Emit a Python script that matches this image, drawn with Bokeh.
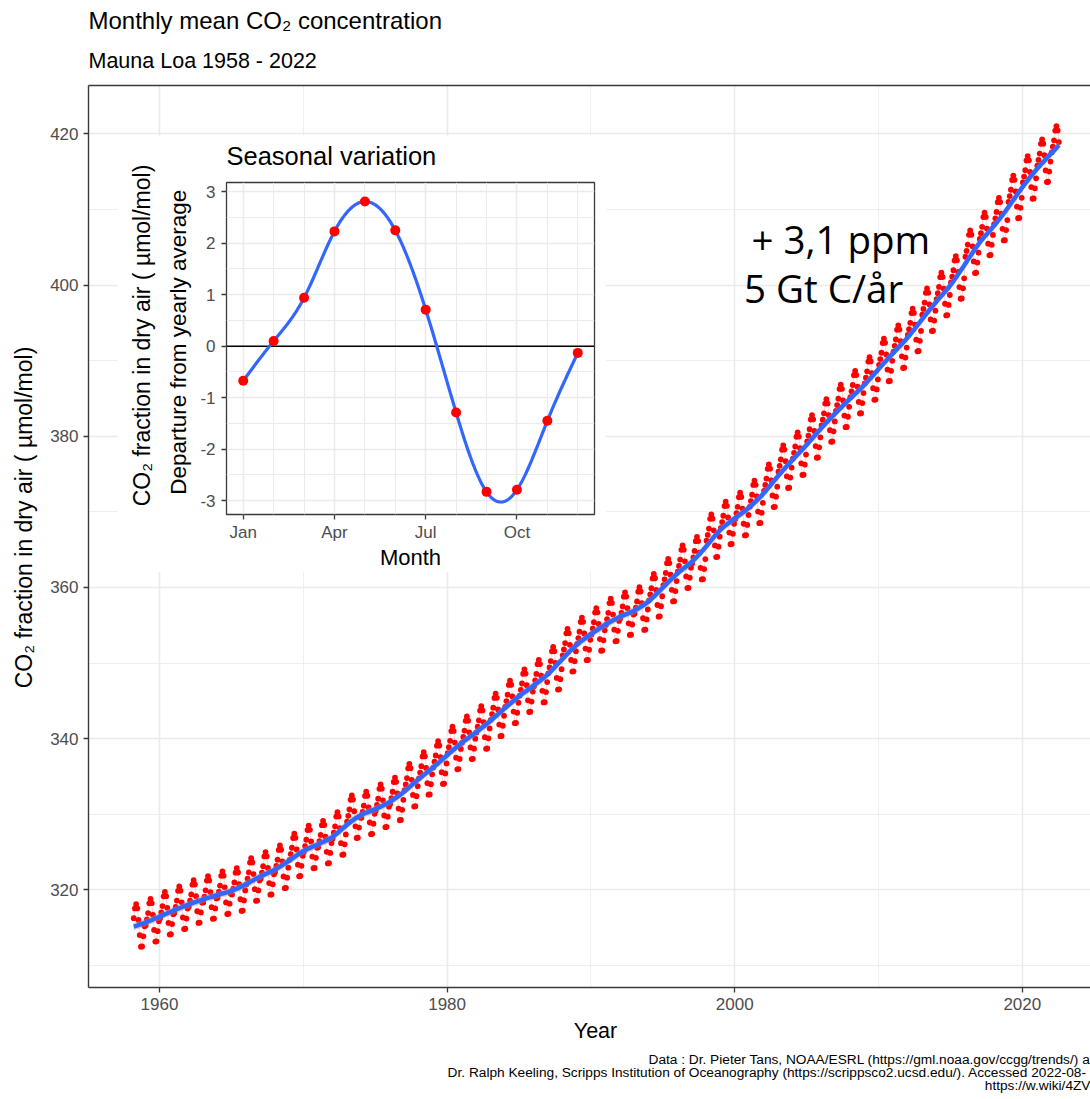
import numpy as np
from bokeh.plotting import figure
from bokeh.models import (Range1d, Label, LinearAxis, FixedTicker,
                          SingleIntervalTicker, ColumnDataSource)
from bokeh.embed import file_html
from bokeh.resources import INLINE

# ---------------- data ----------------
years = list(range(1958, 2023))
annual_mean = [315.30, 315.98, 316.91, 317.64, 318.45, 318.99, 319.62, 320.04,
               321.37, 322.18, 323.05, 324.62, 325.68, 326.32, 327.46, 329.68,
               330.19, 331.12, 332.03, 333.84, 335.41, 336.84, 338.76, 340.12,
               341.48, 343.15, 344.87, 346.35, 347.61, 349.31, 351.69, 353.20,
               354.45, 355.70, 356.54, 357.21, 358.96, 360.97, 362.74, 363.88,
               366.84, 368.54, 369.71, 371.32, 373.45, 375.98, 377.70, 379.98,
               382.09, 384.02, 385.83, 387.64, 390.10, 391.85, 394.06, 396.74,
               398.81, 401.01, 404.41, 406.76, 408.72, 411.66, 414.24, 416.45,
               418.20]
first_month_1958 = 3
last_month_2022 = 7

months = [1, 2, 3, 4, 5, 6, 7, 8, 9, 10, 11, 12]
month_names = ["Jan", "Feb", "Mar", "Apr", "May", "Jun",
               "Jul", "Aug", "Sep", "Oct", "Nov", "Dec"]
seasonal_departure = [-0.67, 0.10, 0.94, 2.23, 2.81, 2.25,
                      0.71, -1.29, -2.83, -2.79, -1.45, -0.13]
inset_ticks = [1, 4, 7, 10]
inset_yticks = [-3, -2, -1, 0, 1, 2, 3]

caption_lines = [
    "Data : Dr. Pieter Tans, NOAA/ESRL (https://gml.noaa.gov/ccgg/trends/) a",
    "Dr. Ralph Keeling, Scripps Institution of Oceanography (https://scrippsco2.ucsd.edu/). Accessed  2022-08-",
    "https://w.wiki/4ZV",
]

# ---------------- monthly series = yearly average + seasonal departure ----------------
t_vals, co2_vals, deseason = [], [], []
for y, a in zip(years, annual_mean):
    for m, s in zip(months, seasonal_departure):
        if y == 1958 and m < first_month_1958:
            continue
        if y == 2022 and m > last_month_2022:
            continue
        t_vals.append(y + (m - 0.5) / 12.0)
        co2_vals.append(a + s)
        deseason.append(a)
t_arr = np.array(t_vals)
co2_arr = np.array(co2_vals)
ds = np.array(deseason)


# smoothing stat: local linear (tricube) fit of the de-seasonalised series
def local_linear(t, y, bw):
    out = np.empty_like(y)
    for i, ti in enumerate(t):
        d = np.abs(t - ti) / bw
        w = np.where(d < 1, (1 - d ** 3) ** 3, 0.0)
        X = np.vstack([np.ones_like(t), t - ti]).T
        WX = X * w[:, None]
        beta = np.linalg.solve(X.T @ WX, WX.T @ y)
        out[i] = beta[0]
    return out


trend = local_linear(t_arr, ds, 1.6)
se = 0.5

# ---------------- styling constants ----------------
FONT = "Liberation Sans"
BORDER = "#3a3a3a"
GRID = "#EBEBEB"
TICKTXT = "#4D4D4D"

W, H = 1090, 1099
BL, BR, BT, BB = 88, 0, 85, 112
FW, FH = W - BL - BR, H - BT - BB
PX_YEAR, PX_PPM = 14.38, 7.56
X0 = 1960 - (159 - BL) / PX_YEAR
X1 = X0 + FW / PX_YEAR
Y1 = 420 + (133.3 - BT) / PX_PPM
Y0 = Y1 - FH / PX_PPM

p = figure(width=W, height=H, x_range=Range1d(X0, X1), y_range=Range1d(Y0, Y1),
           output_backend="svg", toolbar_location=None, title=None,
           min_border_left=BL, min_border_right=BR, min_border_top=BT,
           min_border_bottom=BB, background_fill_color="white",
           border_fill_color="white", outline_line_color=None)

for ax in (p.xaxis[0], p.yaxis[0]):
    ax.ticker = SingleIntervalTicker(interval=20, num_minor_ticks=2)
    ax.axis_line_color = BORDER
    ax.axis_line_width = 1.4
    ax.major_tick_line_color = BORDER
    ax.major_tick_line_width = 1.3
    ax.major_tick_out = 5
    ax.major_tick_in = 0
    ax.minor_tick_line_color = None
    ax.major_label_text_font = FONT
    ax.major_label_text_font_size = "17px"
    ax.major_label_text_color = TICKTXT
p.xaxis.major_label_standoff = 5
p.yaxis.major_label_standoff = 5

top_axis = LinearAxis(ticker=FixedTicker(ticks=[]), axis_line_color=BORDER,
                      axis_line_width=1.4, major_tick_line_color=None,
                      minor_tick_line_color=None, major_label_text_font_size="0px")
p.add_layout(top_axis, "above")

for g in (p.xgrid[0], p.ygrid[0]):
    g.grid_line_color = GRID
    g.grid_line_width = 1.6
    g.minor_grid_line_color = GRID
    g.minor_grid_line_width = 0.8

src = ColumnDataSource(dict(t=t_arr, co2=co2_arr, trend=trend,
                            lo=trend - se, hi=trend + se))
p.line("t", "co2", source=src, line_color="#FF0000", line_alpha=0.15, line_width=1.2)
p.scatter("t", "co2", source=src, size=5.8, fill_color="#FF0000",
          line_color="#FF0000", line_width=0)
p.varea(x="t", y1="lo", y2="hi", source=src, fill_color="#999999", fill_alpha=0.4)
p.line("t", "trend", source=src, line_color="#3366FF", line_width=4.5)

# ---------------- inset: seasonal variation ----------------
IL, IT = 117, 135
IW, IH = 489, 437
IBL, IBR, IBT, IBB = 109, 12, 47, 57
ix0, ix1, iy0, iy1 = 0.45, 12.55, -3.27, 3.18

ins = figure(width=IW, height=IH, x_range=Range1d(ix0, ix1), y_range=Range1d(iy0, iy1),
             output_backend="svg", toolbar_location=None, title=None,
             min_border_left=IBL, min_border_right=IBR, min_border_top=IBT,
             min_border_bottom=IBB, background_fill_color="white",
             border_fill_color="white", outline_line_color=BORDER,
             outline_line_width=1.3)

ins.xaxis.ticker = FixedTicker(ticks=inset_ticks,
                               minor_ticks=[m for m in months if m not in inset_ticks])
ins.xaxis.major_label_overrides = {m: month_names[m - 1] for m in inset_ticks}
ins.yaxis.ticker = FixedTicker(ticks=inset_yticks,
                               minor_ticks=[-2.5, -1.5, -0.5, 0.5, 1.5, 2.5])
ins.yaxis.major_label_overrides = {v: str(v) for v in inset_yticks}
for ax in (ins.xaxis[0], ins.yaxis[0]):
    ax.axis_line_color = None
    ax.major_tick_line_color = BORDER
    ax.major_tick_line_width = 1.3
    ax.major_tick_out = 5
    ax.major_tick_in = 0
    ax.minor_tick_line_color = None
    ax.major_label_text_font = FONT
    ax.major_label_text_font_size = "17px"
    ax.major_label_text_color = TICKTXT
    ax.axis_label_text_font = FONT
    ax.axis_label_text_font_size = "22px"
    ax.axis_label_text_font_style = "normal"
    ax.axis_label_text_color = "black"
ins.xaxis.axis_label = "Month"
ins.xaxis.major_label_standoff = 3
ins.xaxis.axis_label_standoff = 0
ins.yaxis.major_label_standoff = 6
for g in (ins.xgrid[0], ins.ygrid[0]):
    g.grid_line_color = GRID
    g.grid_line_width = 1.6
    g.minor_grid_line_color = GRID
    g.minor_grid_line_width = 1.0


# smoothing stat: natural cubic spline through the 12 monthly departures
def natural_spline(xk, yk, xs):
    xk = np.asarray(xk, float)
    yk = np.asarray(yk, float)
    n = len(xk)
    h = np.diff(xk)
    A = np.zeros((n, n))
    b = np.zeros(n)
    A[0, 0] = A[-1, -1] = 1.0
    for i in range(1, n - 1):
        A[i, i - 1] = h[i - 1]
        A[i, i] = 2 * (h[i - 1] + h[i])
        A[i, i + 1] = h[i]
        b[i] = 3 * ((yk[i + 1] - yk[i]) / h[i] - (yk[i] - yk[i - 1]) / h[i - 1])
    c = np.linalg.solve(A, b)
    bb = (yk[1:] - yk[:-1]) / h - h * (2 * c[:-1] + c[1:]) / 3
    d = (c[1:] - c[:-1]) / (3 * h)
    idx = np.clip(np.searchsorted(xk, xs, side="right") - 1, 0, n - 2)
    tt = xs - xk[idx]
    return yk[idx] + bb[idx] * tt + c[idx] * tt ** 2 + d[idx] * tt ** 3


xs = np.linspace(months[0], months[-1], 300)
ys = natural_spline(months, seasonal_departure, xs)

ins.line(x=[ix0, ix1], y=[0, 0], line_color="black", line_width=1.6)
ins.line(x=xs, y=ys, line_color="#3366FF", line_width=3.2)
ins.scatter(x=months, y=seasonal_departure, size=10, fill_color="#FF0000",
            line_color="#FF0000", line_width=0)

ins.styles = {"position": "absolute", "left": f"{IL}px", "top": f"{IT}px", "z-index": "10"}

# ---------------- text layer (titles, axis titles, annotations, caption) ----------------
txt = figure(width=W, height=H, x_range=Range1d(0, W), y_range=Range1d(H, 0),
             output_backend="svg", toolbar_location=None, title=None,
             x_axis_location=None, y_axis_location=None, min_border=0,
             background_fill_alpha=0, border_fill_alpha=0, outline_line_color=None)
txt.grid.visible = False


def add_text(x, y, s, size, font=FONT, align="left", baseline="middle", angle=0.0,
             color="black"):
    txt.add_layout(Label(x=x, y=y, text=s, text_font=font, text_font_size=size,
                         text_color=color, text_align=align, text_baseline=baseline,
                         angle=angle))


add_text(88, 20.0, "Monthly mean CO\u2082 concentration", "24px")
add_text(88, 60.9, "Mauna Loa 1958 - 2022", "21.5px")
add_text(751, 238.9, "+ 3,1 ppm", "38.5px", font="Open Sans")
add_text(743.5, 287.0, "5 Gt C/\u00e5r", "38.5px", font="Open Sans")
add_text(595, 1030, "Year", "21.5px", align="center")
add_text(23, 517, "CO\u2082 fraction in dry air ( \u00b5mol/mol)", "23px",
         align="center", angle=np.pi / 2)
for line_txt, cy in zip(caption_lines, [1058.7, 1072.0, 1084.5]):
    add_text(W, cy, line_txt, "13.7px", align="right")
add_text(226, 155.0, "Seasonal variation", "25.5px")
add_text(141, 335, "CO\u2082 fraction in dry air ( \u00b5mol/mol)", "23px",
         align="center", angle=np.pi / 2)
add_text(177.5, 341.7, "Departure from yearly average", "22.5px",
         align="center", angle=np.pi / 2)

txt.styles = {"position": "absolute", "left": "0px", "top": "0px", "z-index": "20",
              "pointer-events": "none"}

open("out.html", "w").write(file_html([p, ins, txt], INLINE))
